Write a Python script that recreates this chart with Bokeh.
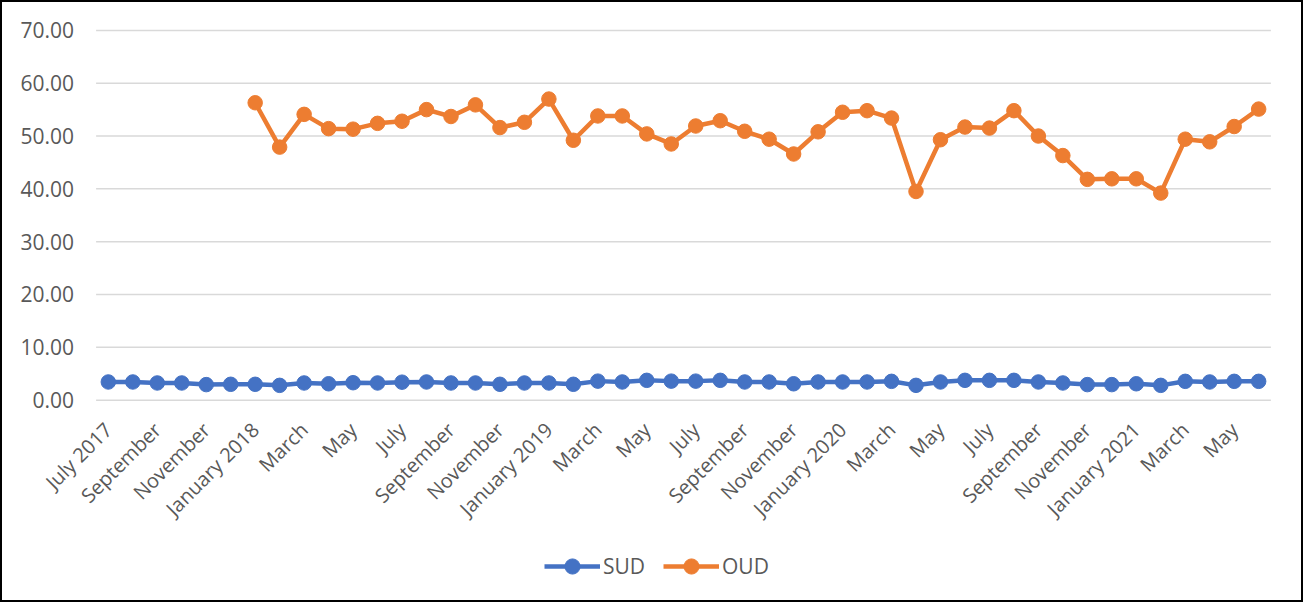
import math
from bokeh.plotting import figure
from bokeh.models import Range1d, FixedTicker, Legend, LegendItem
from bokeh.embed import file_html
from bokeh.resources import INLINE

months = ["July 2017", "August 2017", "September 2017", "October 2017", "November 2017", "December 2017",
          "January 2018", "February 2018", "March 2018", "April 2018", "May 2018", "June 2018",
          "July 2018", "August 2018", "September 2018", "October 2018", "November 2018", "December 2018",
          "January 2019", "February 2019", "March 2019", "April 2019", "May 2019", "June 2019",
          "July 2019", "August 2019", "September 2019", "October 2019", "November 2019", "December 2019",
          "January 2020", "February 2020", "March 2020", "April 2020", "May 2020", "June 2020",
          "July 2020", "August 2020", "September 2020", "October 2020", "November 2020", "December 2020",
          "January 2021", "February 2021", "March 2021", "April 2021", "May 2021", "June 2021"]

tick_labels = ["July 2017", "September", "November", "January 2018", "March", "May",
               "July", "September", "November", "January 2019", "March", "May",
               "July", "September", "November", "January 2020", "March", "May",
               "July", "September", "November", "January 2021", "March", "May"]

sud = [3.44, 3.44, 3.25, 3.25, 2.94, 3.0, 3.0, 2.8, 3.25, 3.1, 3.3, 3.25,
       3.4, 3.44, 3.25, 3.25, 3.0, 3.25, 3.25, 3.0, 3.6, 3.44, 3.75, 3.6,
       3.6, 3.75, 3.44, 3.44, 3.1, 3.44, 3.44, 3.44, 3.56, 2.8, 3.44, 3.75,
       3.75, 3.75, 3.44, 3.25, 2.94, 2.94, 3.1, 2.8, 3.56, 3.44, 3.56, 3.56]

# OUD series starts January 2018
oud_start = 6
oud = [56.3, 47.9, 54.1, 51.4, 51.3, 52.4, 52.8, 55.0, 53.7, 55.9, 51.6, 52.6,
       57.0, 49.2, 53.8, 53.8, 50.4, 48.5, 51.9, 52.9, 50.9, 49.4, 46.6, 50.8,
       54.5, 54.8, 53.4, 39.5, 49.3, 51.7, 51.5, 54.8, 50.0, 46.3, 41.8, 41.9,
       41.9, 39.2, 49.4, 48.9, 51.8, 55.1]

yticks = [0, 10, 20, 30, 40, 50, 60, 70]
y_max = 70

x_all = list(range(len(months)))
x_oud = x_all[oud_start:oud_start + len(oud)]

FONT = "Open Sans"
TXT = "#595959"
BLUE = "#4472C4"
ORANGE = "#ED7D31"
GRID = "#d9d9d9"

# ---- layout (pixels, inside the bordered canvas) ----
W, H, BW = 1303, 602, 2
CW, CH = W - 2 * BW, H - 2 * BW
X_FIRST_PX = 105.5      # centre of the first category
BAND_PX = 24.4          # width of one category band
Y_TOP_PX = 27.7         # position of the top gridline (from top)
Y_ZERO_PX = 395.0       # position of the zero line (from top)

px_per_unit = (Y_ZERO_PX - Y_TOP_PX) / y_max
x_start = -X_FIRST_PX / BAND_PX
x_end = x_start + CW / BAND_PX
y_end = y_max + Y_TOP_PX / px_per_unit
y_start = -(CH - Y_ZERO_PX) / px_per_unit

p = figure(width=W, height=H, output_backend="svg", toolbar_location=None,
           x_range=Range1d(x_start, x_end), y_range=Range1d(y_start, y_end),
           min_border_left=0, min_border_right=0, min_border_top=0, min_border_bottom=0,
           styles={"border": "2px solid black", "box-sizing": "border-box"})
p.outline_line_color = None
p.background_fill_color = "white"
p.border_fill_color = "white"
p.xgrid.visible = False
p.ygrid.visible = False

# horizontal gridlines across the category bands
n = len(yticks)
p.segment(x0=[x_all[0] - 0.5] * n, x1=[x_all[-1] + 0.5] * n, y0=yticks, y1=yticks,
          line_color=GRID, line_width=1.5)

r1 = p.line(x_all, sud, line_color=BLUE, line_width=4.5)
r2 = p.scatter(x_all, sud, size=14.5, fill_color=BLUE, line_color=BLUE)
r3 = p.line(x_oud, oud, line_color=ORANGE, line_width=4.5)
r4 = p.scatter(x_oud, oud, size=14.5, fill_color=ORANGE, line_color=ORANGE)

# x axis, drawn on the zero line
xt = list(range(0, len(months), 2))
xa = p.xaxis[0]
xa.fixed_location = 0
xa.ticker = FixedTicker(ticks=xt)
xa.major_label_overrides = {i: lab for i, lab in zip(xt, tick_labels)}
xa.major_label_orientation = math.pi / 4
xa.axis_line_color = None
xa.major_tick_line_color = None
xa.minor_tick_line_color = None
xa.major_tick_out = 0
xa.major_tick_in = 0
xa.major_label_text_font = FONT
xa.major_label_text_font_size = "20px"
xa.major_label_text_color = TXT
xa.major_label_standoff = 26

# y axis, drawn at the left edge of the first band
ya = p.yaxis[0]
ya.fixed_location = x_all[0] - 0.5
ya.ticker = FixedTicker(ticks=yticks)
ya.major_label_overrides = {v: f"{v:.2f}" for v in yticks}
ya.axis_line_color = None
ya.major_tick_line_color = None
ya.minor_tick_line_color = None
ya.major_tick_out = 0
ya.major_tick_in = 0
ya.major_label_text_font = FONT
ya.major_label_text_font_size = "21px"
ya.major_label_text_color = TXT
ya.major_label_standoff = 22


def make_legend(label, rends, x):
    lg = Legend(items=[LegendItem(label=label, renderers=rends)], location=(x, 19),
                orientation="horizontal", padding=0, margin=0, border_line_color=None,
                background_fill_alpha=0, glyph_width=56, glyph_height=38, label_height=38,
                label_standoff=3, label_text_font=FONT, label_text_font_size="21px",
                label_text_color=TXT)
    p.add_layout(lg, "center")


make_legend("SUD", [r1, r2], 542)
make_legend("OUD", [r3, r4], 661)

open("out.html", "w").write(file_html(p, INLINE))
